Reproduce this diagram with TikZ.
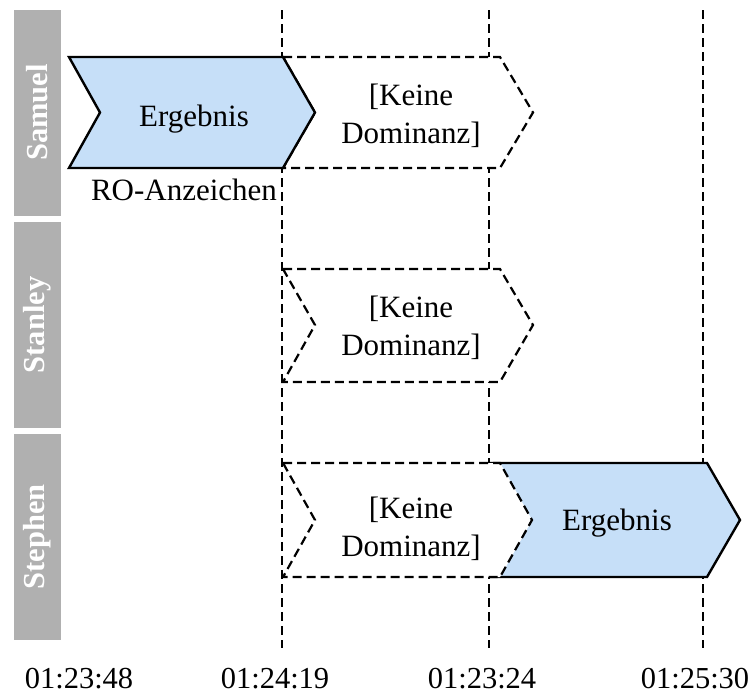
\documentclass[tikz,border=0pt]{standalone}
\usepackage{fontspec}
\setmainfont{Liberation Serif}
\definecolor{lanegray}{RGB}{176,176,176}
\definecolor{resultblue}{RGB}{198,223,248}
\begin{document}
\begin{tikzpicture}[x=1pt,y=-1pt,
  lanebar/.style={fill=lanegray, draw=none, rotate=90, inner sep=0pt,
    minimum width=206pt, minimum height=47pt, text=white,
    font=\fontsize{30.5}{36}\selectfont\bfseries},
  timeline/.style={draw=black, line width=2.2pt, dash pattern=on 9pt off 5pt},
  resultshape/.style={fill=resultblue, draw=black, line width=2.4pt, line join=miter},
  nodomshape/.style={fill=white, draw=black, line width=2.2pt, dash pattern=on 9pt off 5pt},
  label/.style={font=\fontsize{31}{38}\selectfont, align=center, inner sep=0pt},
  timelabel/.style={font=\fontsize{30.5}{36}\selectfont, inner sep=0pt}]

\useasboundingbox (0,0) rectangle (754,694);

% lane headers
\node[lanebar] (samuel)  at (37.5,112.5) {Samuel};
\node[lanebar] (stanley) at (37.5,325)   {Stanley};
\node[lanebar] (stephen) at (37.5,537)   {Stephen};

% time markers
\draw[timeline] (282,10) -- (282,648);
\draw[timeline] (489,10) -- (489,648);
\draw[timeline] (703,10) -- (703,648);

% Samuel
\draw[nodomshape] (283,57) -- (500,57) -- (533,112.5) -- (500,168) -- (283,168) -- (315,112.5) -- cycle;
\draw[resultshape] (69,57) -- (283,57) -- (315,112.5) -- (283,168) -- (69,168) -- (100,112.5) -- cycle;
\node[label] (samres) at (194,119) {Ergebnis};
\node[label] (samnd) at (411,116) {[Keine\\Dominanz]};
\node[label] (samro) at (184,189.5) {RO-Anzeichen};

% Stanley
\draw[nodomshape] (283,269) -- (500,269) -- (533,325) -- (500,382) -- (283,382) -- (315,325) -- cycle;
\node[label] (stannd) at (411,328) {[Keine\\Dominanz]};

% Stephen
\fill[resultblue] (500,463) -- (707,463) -- (740,520) -- (707,577) -- (500,577) -- (532,520) -- cycle;
\draw[resultshape, fill=none] (489,463) -- (707,463) -- (740,520) -- (707,577) -- (489,577);
\draw[nodomshape] (283,463) -- (500,463) -- (532,520) -- (500,577) -- (283,577) -- (315,520) -- cycle;
\node[label] (stepnd) at (411,529) {[Keine\\Dominanz]};
\node[label] (stepres) at (617,523) {Ergebnis};

% time labels
\node[timelabel] (t1) at (79,679) {01:23:48};
\node[timelabel] (t2) at (275,679) {01:24:19};
\node[timelabel] (t3) at (482,679) {01:23:24};
\node[timelabel] (t4) at (695,679) {01:25:30};
\end{tikzpicture}
\end{document}
